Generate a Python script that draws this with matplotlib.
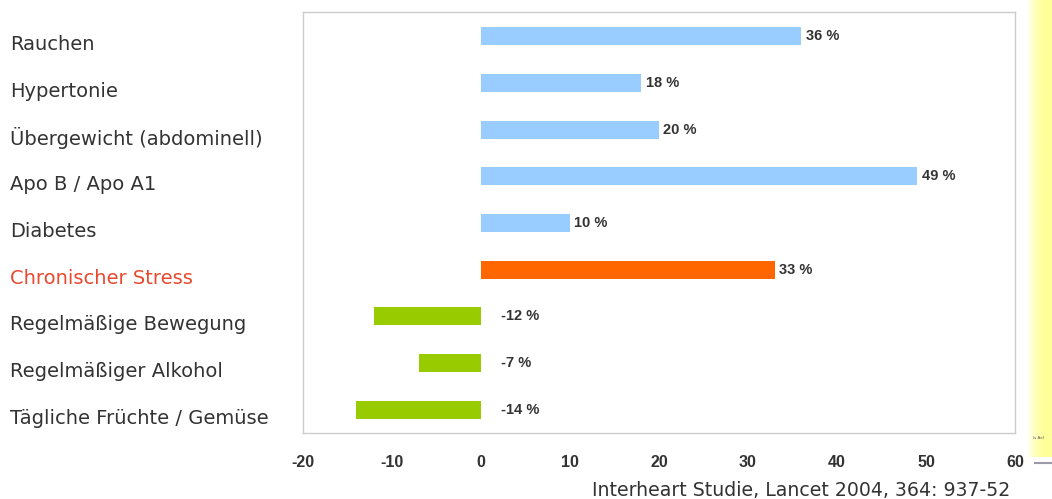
import matplotlib

matplotlib.use("Agg")
import matplotlib.pyplot as plt
import matplotlib.transforms as mtransforms
import numpy as np
from matplotlib.colors import LinearSegmentedColormap

categories = [
    "Rauchen",
    "Hypertonie",
    "Übergewicht (abdominell)",
    "Apo B / Apo A1",
    "Diabetes",
    "Chronischer Stress",
    "Regelmäßige Bewegung",
    "Regelmäßiger Alkohol",
    "Tägliche Früchte / Gemüse",
]
values = [36, 18, 20, 49, 10, 33, -12, -7, -14]
value_labels = ["36 %", "18 %", "20 %", "49 %", "10 %", "33 %", "-12 %", "-7 %", "-14 %"]
xticks = [-20, -10, 0, 10, 20, 30, 40, 50, 60]
source = "Interheart Studie, Lancet 2004, 364: 937-52"

BLUE = "#99ccff"
ORANGE = "#ff6600"
GREEN = "#99cc00"
TEXT = "#333333"
RED_TEXT = "#e8492f"
BOLD_FONT = ["Liberation Sans Narrow", "Liberation Sans", "DejaVu Sans"]
WIDE_FONT = ["DejaVu Sans"]

W, H = 1052, 499
fig = plt.figure(figsize=(W / 100, H / 100), dpi=100)
fig.patch.set_facecolor("white")

# yellow gradient strip on the right edge (slide background)
strip = fig.add_axes([1026 / W, 1 - 457 / H, 26 / W, 457 / H])
grad = np.linspace(0, 1, 60)[None, :]
cmap = LinearSegmentedColormap.from_list("y", ["#ffffff", "#ffffc0", "#ffff99", "#ffff99"])
strip.imshow(grad, aspect="auto", cmap=cmap, extent=[0, 1, 0, 1])
strip.axis("off")
fig.add_artist(plt.Line2D([1035 / W, 1], [1 - 463 / H] * 2, color="#9a9aa8",
                          lw=1.5, transform=fig.transFigure))
fig.text(1033 / W, 1 - 438 / H, "ls Ael", fontsize=3, color="#555555",
         va="center")

ax = fig.add_axes([303 / W, 1 - 433 / H, (1015 - 303) / W, (433 - 12) / H])
y = np.arange(len(categories))
colors = [BLUE] * 5 + [ORANGE] + [GREEN] * 3
ax.barh(y, values, height=0.39, color=colors, zorder=2)

for yi, v, lab in zip(y, values, value_labels):
    xpos = v + 0.5 if v > 0 else 2.2
    ax.text(xpos, yi, lab, va="center", ha="left", fontsize=10.5,
            fontweight="bold", color=TEXT, family=BOLD_FONT)

ax.set_xlim(-20, 60)
ax.set_ylim(len(categories) - 0.5, -0.52)
ax.set_xticks(xticks)
ax.set_xticklabels([str(t) for t in xticks], fontweight="bold", fontsize=11.5,
                   color=TEXT, family=BOLD_FONT)
ax.tick_params(axis="x", length=0, pad=16)
ax.set_yticks([])

# category labels, left-aligned at the figure edge, sitting a little below the bars
label_tr = mtransforms.blended_transform_factory(fig.transFigure, ax.transData)
label_tr = label_tr + mtransforms.ScaledTranslation(0, -0.085, fig.dpi_scale_trans)
for yi, cat in zip(y, categories):
    ax.text(10 / W, yi, cat, transform=label_tr, ha="left", va="center",
            fontsize=14, family=WIDE_FONT,
            color=RED_TEXT if cat == "Chronischer Stress" else TEXT)

for sp in ax.spines.values():
    sp.set_color("#cccccc")
    sp.set_linewidth(1.0)

fig.text(1010 / W, 1 - 490 / H, source, ha="right", va="center", fontsize=13.6,
         color=TEXT, family=WIDE_FONT)

fig.savefig("out.png", dpi=100)
